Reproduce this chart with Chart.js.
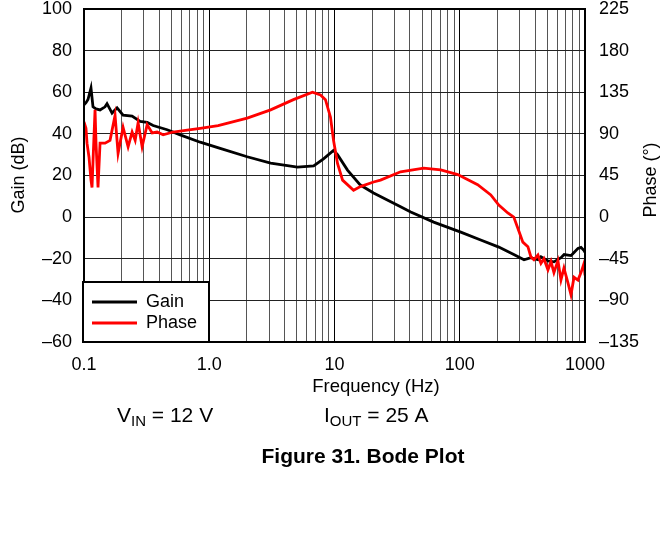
<!DOCTYPE html>
<html>
<head>
<meta charset="utf-8">
<script src="https://cdn.jsdelivr.net/npm/chart.js@4.4.1/dist/chart.umd.min.js"></script>
<style>
  html, body { margin: 0; padding: 0; background: #fff; }
  #wrap { width: 663px; height: 550px; }
</style>
</head>
<body>
<div id="wrap"><canvas id="canvas" width="663" height="550"></canvas></div>
<script>
const FONT = "'Liberation Sans', Arial, sans-serif";

// gain trace (Hz, dB)
const gainFreq = [0.1, 0.1037, 0.1076, 0.1137, 0.118, 0.1247, 0.1343, 0.1472, 0.1527, 0.1675,
  0.1837, 0.2051, 0.2421, 0.2805, 0.3192, 0.3565, 0.4613, 0.5861, 0.8472, 1.222,
  2.009, 3.09, 5.06, 6.82, 8.17, 9.82, 10.57, 12.7, 16.1, 20.5,
  33.7, 40.6, 61.9, 101.9, 147, 205, 270, 326, 370, 421,
  445, 506, 565, 643, 681, 773, 817, 879, 929, 982, 1000];
const gainDb = [54, 55, 56.5, 62, 53, 52, 51.5, 53, 54.5, 50,
  52.5, 49, 48.5, 46, 45.5, 44, 42, 39.5, 36, 33,
  29, 26, 24, 24.6, 28, 32, 30, 22.6, 15.4, 11.6,
  5, 2.5, -2.4, -7.2, -11, -14.4, -18, -20.5, -19.5, -20.5,
  -19, -21, -21.5, -19.5, -18, -18.5, -17, -15, -14.5, -16, -17];

// phase trace (Hz, degrees)
const phaseFreq = [0.1, 0.1037, 0.1057, 0.1096, 0.1137, 0.1159, 0.118, 0.1225, 0.1247, 0.1294,
  0.1343, 0.1472, 0.1614, 0.177, 0.1871, 0.2051, 0.225, 0.2421, 0.2562, 0.2704,
  0.2911, 0.3192, 0.3499, 0.3837, 0.4285, 0.5152, 0.6668, 0.8472, 1.177, 2.009,
  3.09, 4.7, 6.67, 7.73, 8.47, 9.29, 9.82, 10.57, 11.6, 14.2,
  16.1, 20.5, 23.3, 33.7, 51.5, 70.5, 96.4, 139, 177, 205,
  242, 270, 291, 319, 350, 370, 391, 421, 445, 470,
  506, 535, 565, 608, 643, 679, 731, 773, 817, 879, 929, 982, 1000];
const phaseDeg = [103, 96, 80, 65, 40, 32, 60, 116, 80, 32,
  80, 80, 83, 110, 69, 97, 76, 92, 83, 102,
  76, 100, 91, 92, 89, 92, 94, 96, 99, 107,
  116, 127, 135, 132, 127, 108, 83, 58, 40, 29,
  33, 38, 40, 49, 53, 51, 46, 35, 24, 13,
  4.5, 0, -12, -27, -32, -43, -46, -41, -50, -45,
  -57, -48, -60, -47, -68, -55, -71, -84, -65, -68, -60, -50, -63];

// x grid lines and labels
const gridFreqs = [0.1, 0.2, 0.3, 0.4, 0.5, 0.6, 0.7, 0.8, 0.9,
  1, 2, 3, 4, 5, 6, 7, 8, 9,
  10, 20, 30, 40, 50, 60, 70, 80, 90,
  100, 200, 300, 400, 500, 600, 700, 800, 900, 1000];
const decadeLabels = { "0.1": "0.1", "1": "1.0", "10": "10", "100": "100", "1000": "1000" };

const minus = (v) => (v < 0 ? "\u2013" + Math.abs(v) : String(v));

const decorations = {
  id: "decorations",
  afterDraw(chart) {
    const { ctx, chartArea: a } = chart;
    ctx.save();
    ctx.strokeStyle = "#000";
    ctx.lineWidth = 2;
    ctx.strokeRect(a.left, a.top, a.right - a.left, a.bottom - a.top);

    // legend box
    ctx.fillStyle = "#fff";
    ctx.fillRect(83, 282, 126, 60);
    ctx.strokeRect(83, 282, 126, 60);
    ctx.lineWidth = 3;
    ctx.beginPath(); ctx.moveTo(92, 302); ctx.lineTo(137, 302); ctx.stroke();
    ctx.strokeStyle = "#ff0000";
    ctx.beginPath(); ctx.moveTo(92, 323); ctx.lineTo(137, 323); ctx.stroke();
    ctx.fillStyle = "#000";
    ctx.font = "18px " + FONT;
    ctx.textBaseline = "middle";
    ctx.textAlign = "left";
    ctx.fillText("Gain", 146, 302);
    ctx.fillText("Phase", 146, 323);

    // axis titles
    ctx.font = "18px " + FONT;
    ctx.textAlign = "center";
    ctx.save();
    ctx.translate(19, 175); ctx.rotate(-Math.PI / 2);
    ctx.fillText("Gain (dB)", 0, 0);
    ctx.restore();
    ctx.save();
    ctx.translate(651, 180); ctx.rotate(-Math.PI / 2);
    ctx.fillText("Phase (\u00b0)", 0, 0);
    ctx.restore();
    ctx.textBaseline = "alphabetic";
    ctx.font = "18.5px " + FONT;
    ctx.fillText("Frequency (Hz)", 376, 392);

    // conditions line with subscripts
    ctx.textAlign = "left";
    const sub = (x, y, main, s, rest) => {
      ctx.font = "21px " + FONT;
      ctx.fillText(main, x, y);
      x += ctx.measureText(main).width;
      ctx.font = "15px " + FONT;
      ctx.fillText(s, x, y + 4);
      x += ctx.measureText(s).width;
      ctx.font = "21px " + FONT;
      ctx.fillText(rest, x, y);
    };
    sub(117, 422, "V", "IN", " = 12 V");
    sub(324, 422, "I", "OUT", " = 25 A");

    ctx.font = "bold 21px " + FONT;
    ctx.textAlign = "center";
    ctx.fillText("Figure 31. Bode Plot", 363, 463);
    ctx.restore();
  }
};

const noPad = (w) => (s) => {
  s.width = w;
  s.paddingTop = 0;
  s.paddingBottom = 0;
};

const config = {
  type: "line",
  data: {
    datasets: [
      {
        label: "Phase",
        data: phaseFreq.map((x, i) => ({ x, y: phaseDeg[i] })),
        borderColor: "#ff0000",
        borderWidth: 2.8,
        pointRadius: 0,
        tension: 0,
        yAxisID: "y2",
        order: 0
      },
      {
        label: "Gain",
        data: gainFreq.map((x, i) => ({ x, y: gainDb[i] })),
        borderColor: "#000",
        borderWidth: 2.8,
        pointRadius: 0,
        tension: 0,
        yAxisID: "y",
        order: 1
      }
    ]
  },
  options: {
    responsive: false,
    animation: false,
    layout: { padding: { top: 9, bottom: 178, left: 0, right: 0 } },
    plugins: { legend: { display: false }, tooltip: { enabled: false } },
    scales: {
      x: {
        type: "logarithmic",
        min: 0.1,
        max: 1000,
        afterBuildTicks: (s) => { s.ticks = gridFreqs.map((v) => ({ value: v })); },
        afterFit: (s) => { s.height = 30; s.paddingLeft = 0; s.paddingRight = 0; },
        ticks: {
          autoSkip: false,
          maxRotation: 0,
          padding: 12,
          color: "#000",
          font: { family: FONT, size: 18 },
          callback: (v) => decadeLabels[String(v)] || ""
        },
        grid: {
          drawTicks: false,
          lineWidth: 1,
          color: (c) => (decadeLabels[String(c.tick && c.tick.value)] ? "#000" : "#555")
        },
        border: { display: false }
      },
      y: {
        position: "left",
        min: -60,
        max: 100,
        afterFit: noPad(84),
        ticks: {
          stepSize: 20,
          padding: 12,
          color: "#000",
          font: { family: FONT, size: 18 },
          callback: minus
        },
        grid: { drawTicks: false, color: "#222", lineWidth: 1 },
        border: { display: false }
      },
      y2: {
        position: "right",
        min: -135,
        max: 225,
        afterFit: noPad(78),
        ticks: {
          stepSize: 45,
          padding: 14,
          color: "#000",
          font: { family: FONT, size: 18 },
          callback: minus
        },
        grid: { drawOnChartArea: false, drawTicks: false },
        border: { display: false }
      }
    }
  },
  plugins: [decorations]
};

new Chart(document.getElementById("canvas"), config);
</script>
</body>
</html>
